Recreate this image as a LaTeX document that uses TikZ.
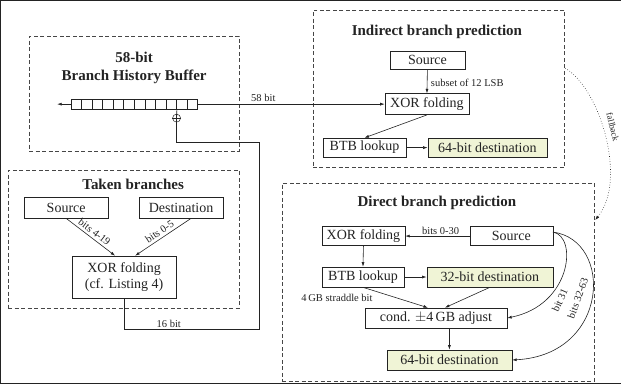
\documentclass[tikz,border=0pt]{standalone}
\usepackage{fontspec}
\setmainfont{Liberation Serif}
\usetikzlibrary{arrows.meta,calc}
\definecolor{fillg}{RGB}{240,244,214}
\definecolor{ln}{RGB}{35,35,35}
\definecolor{grpc}{RGB}{70,70,70}
\begin{document}
\begin{tikzpicture}[x=1pt,y=-1pt,
  every path/.style={draw=ln},
  >={Latex[length=4.5pt,width=3pt]},
  box/.style={draw=ln, line width=0.6pt, inner sep=0pt, text=ln, font=\fontsize{14}{16}\selectfont},
  dest/.style={box, fill=fillg},
  grp/.style={draw=grpc, dashed, dash pattern=on 4pt off 2.5pt, line width=0.7pt, inner sep=0pt},
  ttl/.style={text=ln, font=\fontsize{15}{17}\selectfont\bfseries, inner sep=0pt},
  lbl/.style={text=ln, font=\fontsize{10.5}{12}\selectfont, inner sep=1.5pt},
  cell/.style={draw=ln, line width=0.5pt, minimum width=10.58pt, minimum height=9.4pt, inner sep=0pt},
  conn/.style={line width=0.6pt}
]
\useasboundingbox (0,0) rectangle (621,383);

% group boxes
\node[grp, minimum width=210pt, minimum height=115pt] (bhbG) at (134,93.5) {};
\node[grp, minimum width=231pt, minimum height=138pt] (takG) at (123.5,239) {};
\node[grp, minimum width=252pt, minimum height=157pt] (indG) at (439,88.5) {};
\node[grp, minimum width=313pt, minimum height=198pt] (dirG) at (438.5,282) {};

% titles
\node[ttl] (t1) at (134,57) {58-bit};
\node[ttl] (t2) at (134,76.5) {Branch History Buffer};
\node[ttl] (t3) at (437,32) {Indirect branch prediction};
\node[ttl] (t4) at (437,203) {Direct branch prediction};
\node[ttl] (t5) at (133,184) {Taken branches};

% branch history buffer cells
\foreach \i in {1,...,12} {
  \node[cell] (c\i) at ({70.7+10.58*(\i-0.5)},104) {};
}
\coordinate (bhbOut) at (57,104);
\draw[conn,->] (c1.west) -- (bhbOut);
\node[circle, draw=ln, line width=0.5pt, minimum size=8pt, inner sep=0pt] (xo) at (176.5,118) {};
\draw[line width=0.5pt] (xo.west) -- (xo.east);
\draw[conn] (c10.south east) -- (xo.south);

% indirect branch prediction
\node[box, minimum width=75pt, minimum height=18pt] (isrc) at (427.5,60) {Source};
\node[box, minimum width=84pt, minimum height=21pt] (ixor) at (427,104) {XOR folding};
\node[box, minimum width=83pt, minimum height=19pt] (ibtb) at (364.5,147.5) {BTB lookup};
\node[dest, minimum width=119pt, minimum height=19pt] (idst) at (487.5,147.5) {64-bit destination};
\draw[conn,->] (isrc.south) -- node[lbl, right, xshift=2pt, yshift=-1pt] {subset of 12 LSB} (ixor.north);
\draw[conn,->] (ixor.south) -- (ibtb.north);
\draw[conn,->] (ibtb.east) -- (idst.west);
\draw[conn,->] (c12.east) -- node[lbl, above, pos=0.35, yshift=1pt] {58 bit} (ixor.west);

% taken branches
\node[box, minimum width=84pt, minimum height=21pt] (tsrc) at (66,207.5) {Source};
\node[box, minimum width=84pt, minimum height=21pt] (tdst) at (181,207.5) {Destination};
\node[box, minimum width=104pt, minimum height=42pt, align=center] (txor) at (124,277) {XOR folding\\(cf. Listing 4)};
\draw[conn,->] (tsrc.south) -- node[lbl, above, sloped, pos=0.5, inner sep=2.5pt] {bits 4-19} ([xshift=-9pt]txor.north);
\draw[conn,->] ([xshift=10pt]tdst.south) -- node[lbl, above, sloped, pos=0.5, inner sep=2.5pt] {bits 0-5} ([xshift=11pt]txor.north);
\coordinate (r1) at (124,329);
\coordinate (r2) at (259.5,329);
\coordinate (r3) at (259.5,142);
\coordinate (r4) at (176.5,142);
\draw[conn] (txor.south) -- (r1) -- node[lbl, above, pos=0.33] {16 bit} (r2) -- (r3) -- (r4) -- (xo.south);
\draw[line width=0.5pt] (xo.north) -- (xo.south);

% direct branch prediction
\node[box, minimum width=83pt, minimum height=19pt] (dxor) at (363.5,236) {XOR folding};
\node[box, minimum width=83pt, minimum height=19pt] (dsrc) at (511.5,236) {Source};
\node[box, minimum width=82pt, minimum height=20pt] (dbtb) at (363,277) {BTB lookup};
\node[dest, minimum width=126pt, minimum height=20pt] (d32) at (490,277) {32-bit destination};
\node[box, minimum width=142pt, minimum height=20pt] (dcond) at (436,318) {cond. $\pm$4\,GB adjust};
\node[dest, minimum width=125pt, minimum height=20pt] (d64) at (449.5,360) {64-bit destination};
\draw[conn,->] (dsrc.west) -- node[lbl, above, pos=0.45] {bits 0-30} (dxor.east);
\draw[conn,->] (dxor.south) -- (dbtb.north);
\draw[conn,->] (dbtb.east) -- (d32.west);
\draw[conn,->] (dbtb.south) -- ([xshift=-8pt]dcond.north);
\node[lbl] (strad) at (337,298) {4\,GB straddle bit};
\draw[conn,->] (d32.south) -- ([xshift=9pt]dcond.north);
\draw[conn,->] (dcond.south -| d64.north) -- (d64.north);
\coordinate (sOut) at (553,232);
\draw[conn,->] (sOut) .. controls (578,236) and (572,305) .. (dcond.east);
\draw[conn,->] (sOut) .. controls (614,240) and (610,355) .. (d64.east);
\node[lbl, rotate=66] (b31) at (560,300) {bit 31};
\node[lbl, rotate=70] (b3263) at (578,298) {bits 32-63};

% fallback
\draw[line width=0.6pt, dotted, ->] (indG.east |- 0,68) .. controls (600,88) and (628,180) .. (dirG.east |- 0,220);
\node[lbl, rotate=-76, font=\fontsize{9}{10}\selectfont] (fb) at (613,127) {fallback};
\end{tikzpicture}
\end{document}
